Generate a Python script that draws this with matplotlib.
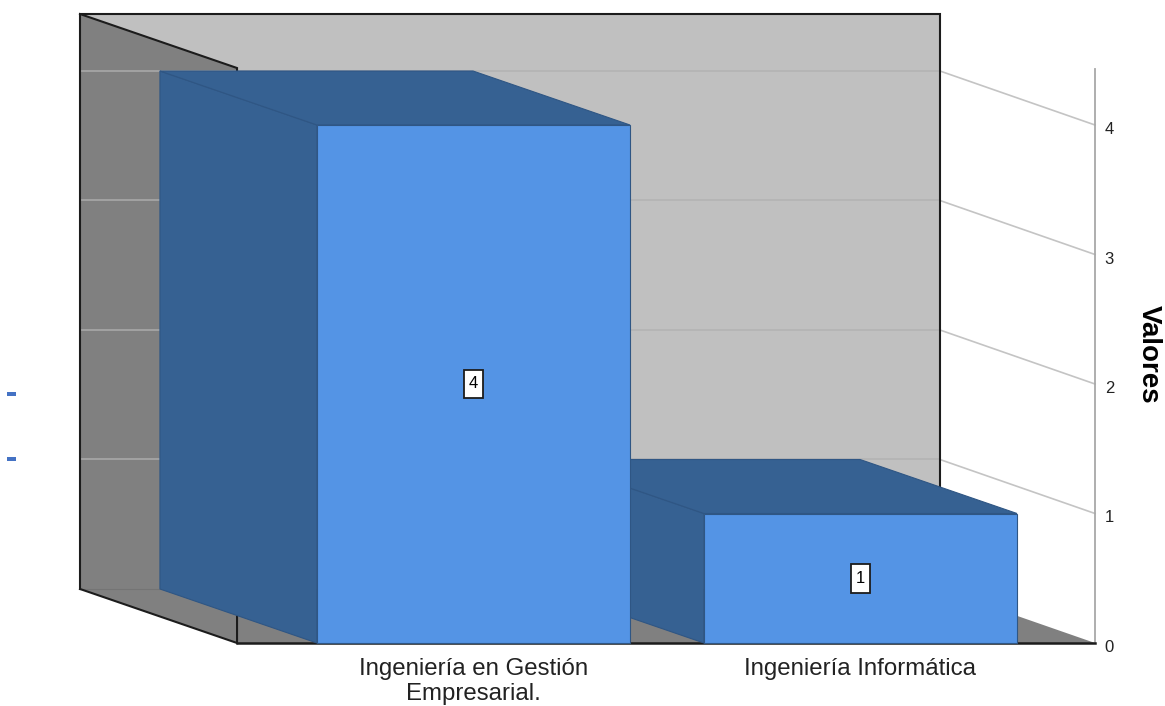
import matplotlib
matplotlib.use('Agg')
import matplotlib.pyplot as plt
from matplotlib.patches import Polygon, Rectangle
from matplotlib.transforms import ScaledTranslation

plt.rcParams['font.family'] = ['Liberation Sans', 'DejaVu Sans']

# Data
categories = ['Ingeniería en Gestión\nEmpresarial.', 'Ingeniería Informática']
values = [4, 1]
value_ticks = [0, 1, 2, 3, 4]

# Oblique view: how far the back plane is shifted from the front plane
DX = -0.4057  # category units
DY = 0.417    # value units
BAR_W = 0.809
X_MIN, X_MAX = -1.2235, 1.606
WALL_L = -0.611
WALL_R = X_MAX + 0.005  # back wall ends a touch further right
Y_TOP = 4.44
BOX_W, BOX_H = 0.049, 0.222  # value label box

# Colours
WALL = '#c0c0c0'
SIDE = '#808080'
FRONT = '#5494e5'
SHADE = '#366192'
EDGE = '#2f5684'
INK = '#1c1c1c'


def back(x, v):
    return (x + DX, v + DY)


fig = plt.figure(figsize=(11.65, 7.06), dpi=100)
ax = fig.add_axes([0, 63 / 706, 1095 / 1165, 574 / 706])
ax.set_xlim(X_MIN, X_MAX)
ax.set_ylim(0, 574 / 129.5)


def face(points, color, edge='none', z=1, lw=0.8):
    ax.add_patch(Polygon(points, closed=True, facecolor=color, edgecolor=edge,
                         linewidth=lw, zorder=z, clip_on=False))


# Walls and floor
face([back(WALL_L, 0), back(WALL_R, 0), back(WALL_R, Y_TOP), back(WALL_L, Y_TOP)], WALL)
face([back(WALL_L, 0), (WALL_L, 0), (WALL_L, Y_TOP), back(WALL_L, Y_TOP)], SIDE)
face([back(WALL_L, 0), back(WALL_R, 0), (X_MAX, 0), (WALL_L, 0)], SIDE)

# Grid lines, each part has its own tone
for t in value_ticks[1:]:
    bl, bc, br = back(WALL_L, t), back(WALL_L - DX, t), back(WALL_R, t)
    ax.plot([bl[0], bc[0]], [bl[1], bc[1]], color='#a8a8a8', lw=1.2, zorder=1.5, clip_on=False)
    ax.plot([bc[0], br[0]], [bc[1], br[1]], color='#b2b2b2', lw=1.1, zorder=1.5, clip_on=False)
    ax.plot([br[0], X_MAX], [br[1], t], color='#c4c4c4', lw=1.2, zorder=1.5, clip_on=False)

# Floor seam and black frame of the walls
seam = [back(WALL_L, 0), back(WALL_R, 0)]
ax.plot([p[0] for p in seam], [p[1] for p in seam], color='#747474', lw=0.8, zorder=1.6)
frame = [
    [back(WALL_L, 0), back(WALL_L, Y_TOP), back(WALL_R, Y_TOP), back(WALL_R, 0)],
    [back(WALL_L, Y_TOP), (WALL_L, Y_TOP), (WALL_L, 0), back(WALL_L, 0)],
]
for pts in frame:
    ax.plot([p[0] for p in pts], [p[1] for p in pts], color=INK, lw=1.5,
            zorder=1.8, clip_on=False, solid_joinstyle='miter')

# Bars, right one first so that the left one covers it
for i in reversed(range(len(values))):
    v = values[i]
    x0, x1 = i - BAR_W / 2, i + BAR_W / 2
    face([(x0, 0), back(x0, 0), back(x0, v), (x0, v)], SHADE, EDGE, 3)
    face([(x0, v), back(x0, v), back(x1, v), (x1, v)], SHADE, EDGE, 3)
    face([(x0, 0), (x1, 0), (x1, v), (x0, v)], FRONT, EDGE, 3)
    ax.add_patch(Rectangle((i - BOX_W / 2, v / 2 - BOX_H / 2), BOX_W, BOX_H,
                           facecolor='white', edgecolor=INK, linewidth=1.3, zorder=4))
    ax.text(i, v / 2, str(v), ha='center', va='center', fontsize=12, color='black', zorder=5)

# Axes
ax.set_xticks(range(len(categories)))
ax.set_xticklabels(categories, fontsize=17.3, color='#222222', linespacing=1.2)
ax.set_yticks(value_ticks)
ax.yaxis.tick_right()
ax.yaxis.set_label_position('right')
ax.tick_params(axis='x', length=0, pad=10.5)
ax.tick_params(axis='y', length=0, pad=7, labelsize=12, labelcolor='#222222')
ax.set_ylabel('Valores', fontsize=20, fontweight='bold', rotation=270, labelpad=34.5, y=0.503)

# the value labels sit a little below their grid line
shift = ScaledTranslation(0, -3 / 100, fig.dpi_scale_trans)
for lab in ax.get_yticklabels():
    lab.set_transform(lab.get_transform() + shift)

for s in ['top', 'left']:
    ax.spines[s].set_visible(False)
ax.spines['right'].set_color('#a8a8a8')
ax.spines['right'].set_linewidth(1.3)
ax.spines['bottom'].set_color(INK)
ax.spines['bottom'].set_linewidth(1.8)
ax.spines['bottom'].set_bounds(WALL_L, X_MAX)
ax.patch.set_visible(False)

# Two small stray blue dashes at the left edge of the image
for fy in [394 / 706, 459 / 706]:
    fig.add_artist(Rectangle((7 / 1165, 1 - fy - 2 / 706), 9 / 1165, 4 / 706,
                             transform=fig.transFigure, facecolor='#4472c4',
                             edgecolor='none'))

fig.savefig('out.png', dpi=100)
